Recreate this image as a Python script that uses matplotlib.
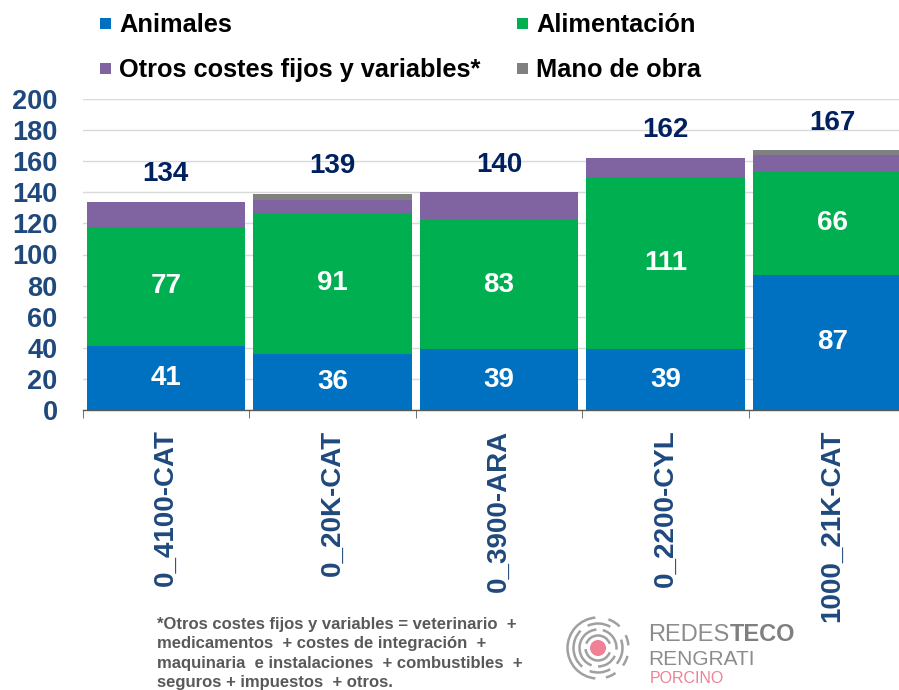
import matplotlib
matplotlib.use('Agg')
import matplotlib.pyplot as plt
from matplotlib.patches import Rectangle, Circle, Arc
import numpy as np

plt.rcParams['font.family'] = ['Liberation Sans', 'DejaVu Sans']

# ---------------- data ----------------
categories = ['0_4100-CAT', '0_20K-CAT', '0_3900-ARA', '0_2200-CYL', '1000_21K-CAT']
animales = [41, 36, 39, 39, 87]
alimentacion = [77, 91, 83, 111, 66]
otros = [16, 8, 18, 12, 11]
mano_obra = [0, 4, 0, 0, 3]
totals = [134, 139, 140, 162, 167]
series_names = ['Animales', 'Alimentación', 'Otros costes fijos y variables*', 'Mano de obra']
yticks = [0, 20, 40, 60, 80, 100, 120, 140, 160, 180, 200]
footnote = ("*Otros costes fijos y variables = veterinario  +\n"
            "medicamentos  + costes de integración  +\n"
            "maquinaria  e instalaciones  + combustibles  +\n"
            "seguros + impuestos  + otros.")

colors = ['#0070C0', '#00B050', '#8064A2', '#808080']
tick_color = '#1F497D'
total_color = '#002060'

W, H = 899, 690
fig = plt.figure(figsize=(W / 100, H / 100), dpi=100)
ax = fig.add_axes([82.5 / W, 280 / H, 833 / W, 311 / H])

x = np.arange(len(categories))
bottom = np.zeros(len(categories))
containers = []
for vals, col in zip([animales, alimentacion, otros, mano_obra], colors):
    c = ax.bar(x, vals, width=0.95, bottom=bottom, color=col, zorder=3, linewidth=0)
    containers.append(c)
    bottom += np.array(vals)

for c, vals in zip(containers[:2], [animales, alimentacion]):
    ax.bar_label(c, labels=[str(v) for v in vals], label_type='center',
                 color='white', fontsize=20, fontweight='bold')

for xi, t in zip(x, totals):
    ax.annotate(str(t), (xi, t), xytext=(0, 20), textcoords='offset points',
                ha='center', va='center', fontsize=20, fontweight='bold',
                color=total_color)

ax.set_xlim(-0.5, len(categories) - 0.5)
ax.set_ylim(0, 200)
ax.set_yticks(yticks)
ax.yaxis.grid(True, color='#D9D9D9', lw=1)
ax.set_axisbelow(True)
for s in ['left', 'top', 'right']:
    ax.spines[s].set_visible(False)
ax.spines['bottom'].set_color('#595959')
ax.spines['bottom'].set_linewidth(1)

ax.tick_params(axis='y', length=0, pad=18, labelsize=19.5, labelcolor=tick_color)
for t in ax.get_yticklabels():
    t.set_fontweight('bold')

ax.set_xticks(x)
ax.set_xticklabels(categories, rotation=90, fontsize=20, fontweight='bold',
                   color=tick_color, va='top', ha='center')
ax.tick_params(axis='x', which='major', length=0, pad=14)
ax.set_xticks(np.arange(-0.5, len(categories), 1), minor=True)
ax.tick_params(axis='x', which='minor', length=6, color='#595959', direction='out')

# ---------------- overlay in pixel coordinates ----------------
ov = fig.add_axes([0, 0, 1, 1], zorder=10)
ov.set_xlim(0, W)
ov.set_ylim(H, 0)
ov.axis('off')
ov.patch.set_alpha(0)

# legend
leg_pos = [(100, 32), (517, 32), (100, 77), (517, 77)]
for (lx, by), name, col in zip(leg_pos, series_names, colors):
    ov.add_patch(Rectangle((lx, by - 14), 11, 11, color=col, linewidth=0))
    ov.text(lx + 19, by, name, fontsize=18.3, fontweight='bold', color='black',
            va='baseline', ha='left')

# footnote
ov.text(157, 617, footnote, fontsize=12, fontweight='bold', color='#595959',
        va='top', ha='left', linespacing=1.36)

# logo
cx, cy = 598, 648
ov.add_patch(Circle((cx, cy), 8, color='#EF8096', linewidth=0))
rings = {
    12.5: [(20, 160), (185, 340)],
    18.5: [(95, 250), (270, 335), (355, 75)],
    24.5: [(60, 115), (135, 230), (250, 300), (320, 20)],
    30.5: [(95, 265), (285, 305), (325, 345), (5, 25), (45, 70)],
}
for r, segs in rings.items():
    for a0, a1 in segs:
        ov.add_patch(Arc((cx, cy), 2 * r, 2 * r, theta1=-a1, theta2=-a0,
                         color='#A0A0A0', lw=1.8))
t1 = ov.text(648, 641, 'REDES', fontsize=17, color='#8C8C8C', va='baseline', ha='left')
ov.annotate('TECO', xy=(1, 0), xycoords=t1, fontsize=17, fontweight='bold',
            color='#7F7F7F', va='bottom', ha='left')
ov.text(648, 665, 'RENGRATI', fontsize=15, color='#8C8C8C', va='baseline', ha='left')
ov.text(650, 683, 'PORCINO', fontsize=11.5, color='#EF8096', va='baseline', ha='left')

fig.savefig('out.png', dpi=100)
